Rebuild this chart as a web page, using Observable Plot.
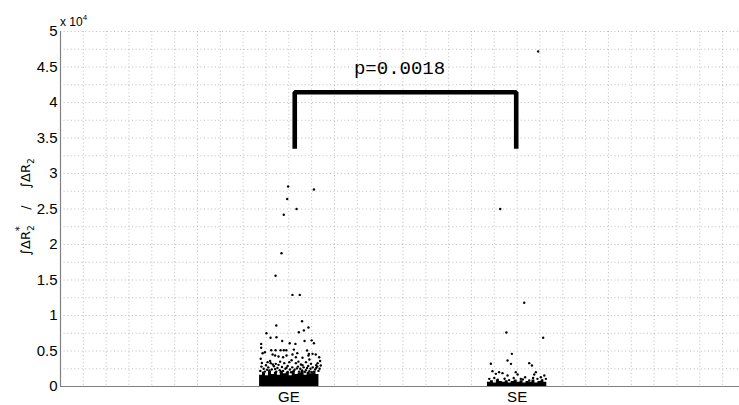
<!DOCTYPE html>
<html><head><meta charset="utf-8">
<script src="https://cdn.jsdelivr.net/npm/d3@7"></script>
<script src="https://cdn.jsdelivr.net/npm/@observablehq/plot@0.6"></script>
<style>
body{margin:0;background:#fff;overflow:hidden}
#chart{width:739px;height:405px}
</style>
</head><body><div id="chart"></div>
<script>
// ---- data (values in units of 10^4) ----
const categories = ["GE", "SE"];
const categoryPos = [1, 2];
const yTickValues = [0, 0.5, 1, 1.5, 2, 2.5, 3, 3.5, 4, 4.5, 5];
const pLabel = "p=0.0018";
const bracketX = [1.026, 1.996];
const bracketTop = 4.145;
const bracketBottom = 3.35;

// scattered GE points [x position, value]
const geScatter = [
  [0.997,2.817],[1.11,2.775],[0.993,2.64],[1.034,2.50],[0.978,2.42],[0.968,1.877],[0.942,1.559],
  [1.016,1.29],[1.048,1.29],[1.058,0.92],[0.945,0.86],[0.902,0.75],[1.044,0.765],[1.066,0.79],
  [1.086,0.83],[0.92,0.686],[0.946,0.694],[0.971,0.64],[1.004,0.61],[1.029,0.60],[1.069,0.64],
  [1.10,0.65],[1.11,0.61],[0.879,0.60],[0.879,0.545],[0.923,0.51],[0.942,0.51],[0.964,0.51],
  [0.978,0.51],[0.989,0.51],[0.895,0.483],[1.022,0.52],[1.037,0.47],[1.08,0.507],[1.088,0.46],
  [0.885,0.469],[0.929,0.451],[0.940,0.437],[0.955,0.423],[0.975,0.413],[0.990,0.437],[1.016,0.451],
  [1.031,0.413],[1.060,0.404],[1.086,0.437],[1.104,0.46],[1.118,0.451],[1.133,0.413],[0.877,0.39],
  [0.907,0.343],[0.921,0.329],[0.943,0.319],[0.98,0.329],[1.002,0.343],[1.031,0.329],[1.053,0.31],
  [1.075,0.343],[1.097,0.319],[1.126,0.329],[1.14,0.296],[0.955,0.305],[1.06,0.3],[1.12,0.30],[0.93,0.31],
  [0.88,0.28],[0.89,0.25],[0.90,0.30],[0.91,0.27],[0.925,0.24],[0.935,0.285],[0.95,0.26],[0.96,0.23],
  [0.97,0.275],[0.985,0.25],[0.995,0.29],[1.005,0.24],[1.015,0.27],[1.025,0.235],[1.04,0.28],[1.05,0.25],
  [1.065,0.27],[1.075,0.23],[1.085,0.29],[1.095,0.25],[1.105,0.27],[1.115,0.24],[1.125,0.28],[1.13,0.22],
  [0.875,0.22],[0.895,0.21],[0.915,0.225],[0.945,0.21],[0.975,0.22],[0.995,0.205],[1.02,0.215],
  [1.045,0.21],[1.07,0.205],[1.09,0.215],[1.11,0.21],
  [0.882,0.33],[0.918,0.36],[0.962,0.35],[1.012,0.37],[1.042,0.35],[1.09,0.38],[1.137,0.36],
  [0.887,0.195],[0.905,0.235],[0.94,0.245],[0.965,0.2],[0.99,0.265],[1.01,0.2],[1.035,0.255],[1.058,0.225],[1.08,0.26],[1.1,0.2],[1.12,0.26],[1.135,0.25]
];
// dense overlapping GE points near zero, read as a jagged band top
const geBaseX   = [0.872,0.885,0.898,0.911,0.924,0.937,0.95,0.963,0.976,0.989,1.002,1.015,1.028,1.041,1.054,1.067,1.08,1.093,1.106,1.119,1.132];
const geBaseTop = [0.16,0.19,0.15,0.21,0.17,0.2,0.16,0.22,0.18,0.2,0.15,0.21,0.17,0.19,0.22,0.16,0.2,0.18,0.21,0.17,0.17];

// scattered SE points
const seScatter = [
  [2.092,4.72],[1.926,2.50],[2.031,1.18],[1.953,0.76],[2.114,0.686],[1.977,0.46],[1.958,0.366],
  [1.973,0.319],[1.885,0.32],[2.053,0.329],[2.065,0.296],[1.892,0.216],[1.907,0.178],[1.921,0.202],
  [1.936,0.188],[1.958,0.155],[1.994,0.202],[2.002,0.169],[2.016,0.108],[2.035,0.131],[2.082,0.202],
  [2.075,0.169],[2.119,0.155],[2.104,0.131],[2.089,0.108],[2.126,0.108],[1.878,0.108],[2.053,0.085],
  [1.9,0.12],[1.945,0.11],[1.985,0.12],[2.025,0.1],[2.07,0.12],[2.11,0.09],[1.915,0.095],[1.965,0.09]
];
const seBaseX   = [1.87,1.883,1.896,1.909,1.922,1.935,1.948,1.961,1.974,1.987,2.0,2.013,2.026,2.039,2.052,2.065,2.078,2.091,2.104,2.117,2.13];
const seBaseTop = [0.06,0.08,0.05,0.09,0.07,0.06,0.08,0.05,0.07,0.09,0.06,0.08,0.05,0.07,0.06,0.09,0.05,0.07,0.08,0.06,0.06];

// ---- build tables ----
const E4 = 1e4;
const points = [...geScatter, ...seScatter].map(([x, v]) => ({x, v: v * E4}));
const geBase = geBaseX.map((x, i) => ({x, top: geBaseTop[i] * E4}));
const seBase = seBaseX.map((x, i) => ({x, top: seBaseTop[i] * E4}));
const bracket = [
  {x: bracketX[0], v: bracketBottom * E4},
  {x: bracketX[0], v: bracketTop * E4},
  {x: bracketX[1], v: bracketTop * E4},
  {x: bracketX[1], v: bracketBottom * E4}
];
const gridYTicks = d3.range(1, 21).map(i => i * 0.25 * E4);
const gridXTicks = d3.range(1, 30).map(i => i / 10);

const plot = Plot.plot({
  width: 739, height: 405,
  marginLeft: 60, marginRight: 0, marginTop: 31, marginBottom: 19,
  style: {fontFamily: "Liberation Sans, Arial, sans-serif", fontSize: "14px", background: "#fff", color: "#000"},
  x: {type: "linear", domain: [0, 2.974]},
  y: {domain: [0, 5 * E4]},
  marks: [
    Plot.gridY(gridYTicks, {stroke: "#888", strokeOpacity: 0.55, strokeDasharray: "1,2.6"}),
    Plot.gridX(gridXTicks, {stroke: "#888", strokeOpacity: 0.55, strokeDasharray: "1,2.6"}),
    Plot.areaY(geBase, {x: "x", y1: 0, y2: "top", curve: "step-after", fill: "#000"}),
    Plot.areaY(seBase, {x: "x", y1: 0, y2: "top", curve: "step-after", fill: "#000"}),
    Plot.dot(points, {x: "x", y: "v", r: 1.2, fill: "#000", stroke: "none"}),
    Plot.line(bracket, {x: "x", y: "v", stroke: "#000", strokeWidth: 4.6, strokeLinejoin: "miter", strokeLinecap: "butt"}),
    Plot.text([pLabel], {x: 1.485, y: 4.49 * E4, text: d => d, fontFamily: "Liberation Mono, Courier New, monospace", fontSize: 19, fill: "#000"}),
    Plot.ruleY([0], {stroke: "#808080", strokeWidth: 1.2}),
    Plot.ruleX([0], {stroke: "#808080", strokeWidth: 1.2}),
    Plot.axisY({ticks: yTickValues.map(d => d * E4), tickFormat: d => String(d / E4), tickSize: 0, tickPadding: 3, fontSize: 15, label: null}),
    Plot.axisX({ticks: categoryPos, tickFormat: d => categories[categoryPos.indexOf(d)], tickSize: 0, tickPadding: 5, fontSize: 15, label: null})
  ]
});
document.getElementById("chart").appendChild(plot);

const svg = d3.select(plot);
svg.selectAll('g[aria-label$="tick label"]').style("font-size", "15px").attr("font-size", 15);
svg.selectAll('g[aria-label$="tick label"] text').style("font-size", "15px");

// exponent label
const ex = svg.append("text").attr("x", 60).attr("y", 26).attr("text-anchor", "start")
  .style("font-family", "Liberation Sans, Arial, sans-serif").style("font-size", "12px").attr("fill", "#000");
ex.append("tspan").text("x 10");
ex.append("tspan").attr("dy", -6).style("font-size", "8px").text("4");

// y-axis label
const yl = svg.append("text")
  .attr("transform", "translate(30,207) rotate(-90)")
  .attr("text-anchor", "middle")
  .style("font-family", "DejaVu Sans, Liberation Sans, sans-serif").style("font-size", "13px").attr("fill", "#000")
  .style("white-space", "pre");
yl.append("tspan").text("\u222B\u0394R");
yl.append("tspan").attr("dy", 4).style("font-size", "9px").text("2");
yl.append("tspan").attr("dy", -11).attr("dx", -6).style("font-size", "10px").text("*");
yl.append("tspan").attr("dy", 7).text("    /    \u222B\u0394R");
yl.append("tspan").attr("dy", 4).style("font-size", "9px").text("2");
</script>
</body></html>
